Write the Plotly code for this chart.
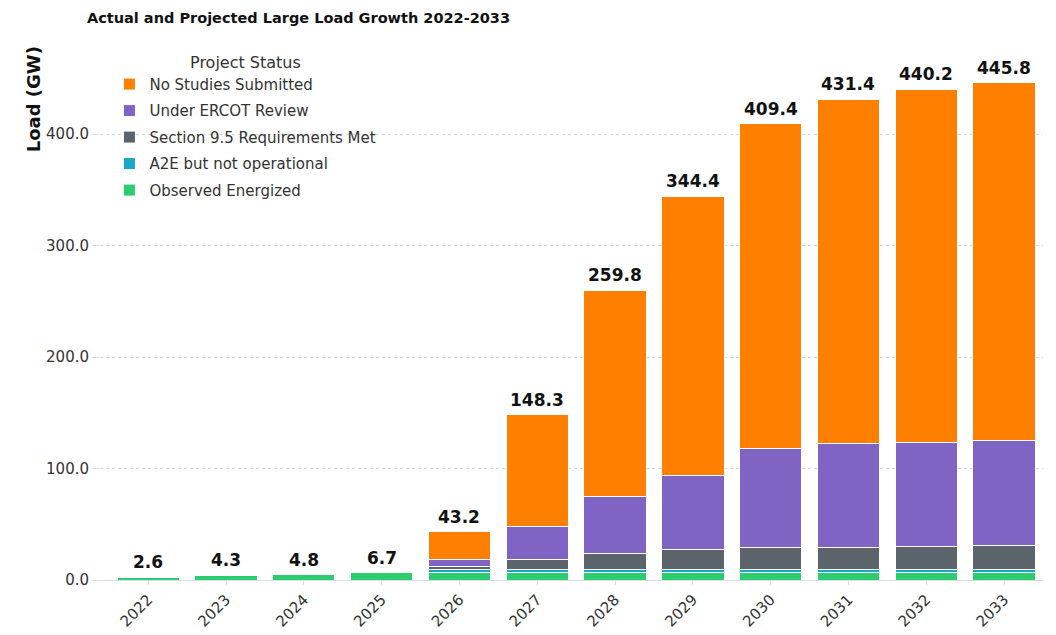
import plotly.graph_objects as go

years = ["2022", "2023", "2024", "2025", "2026", "2027", "2028", "2029", "2030", "2031", "2032", "2033"]
observed_energized = [2.6, 4.3, 4.8, 6.7, 6.7, 6.7, 6.7, 6.7, 6.7, 6.7, 6.7, 6.7]
a2e_not_operational = [0, 0, 0, 0, 3.0, 2.9, 2.9, 2.9, 2.9, 2.9, 2.9, 2.9]
section_95_met = [0, 0, 0, 0, 2.5, 8.9, 14.3, 17.9, 20.0, 20.0, 20.9, 21.5]
under_ercot_review = [0, 0, 0, 0, 6.6, 29.9, 51.4, 65.8, 88.2, 92.4, 93.0, 93.6]
totals = [2.6, 4.3, 4.8, 6.7, 43.2, 148.3, 259.8, 344.4, 409.4, 431.4, 440.2, 445.8]
no_studies_submitted = [round(t - a - b - c - d, 1) for t, a, b, c, d in
                        zip(totals, observed_energized, a2e_not_operational,
                            section_95_met, under_ercot_review)]

series = [
    ("Observed Energized", observed_energized, "#2ecc71"),
    ("A2E but not operational", a2e_not_operational, "#1aa6c6"),
    ("Section 9.5 Requirements Met", section_95_met, "#5b646b"),
    ("Under ERCOT Review", under_ercot_review, "#8064c4"),
    ("No Studies Submitted", no_studies_submitted, "#ff8000"),
]

FONT = "DejaVu Sans"
fig = go.Figure()
n = len(series)
for k, (name, vals, color) in enumerate(series):
    fig.add_trace(go.Bar(
        x=years, y=vals, name=name, legendgroup=name, legendrank=n - k,
        marker=dict(color=color, line=dict(color="white", width=1)),
        hoverinfo="skip",
    ))

for i, tot in enumerate(totals):
    fig.add_annotation(x=i, y=tot, xref="x", yref="y", text=f"<b>{tot:.1f}</b>",
                       showarrow=False, yanchor="bottom", yshift=3,
                       font=dict(family=FONT, size=17, color="#111111"))

fig.add_annotation(xref="paper", yref="paper", x=-0.071, y=0.921,
                   text="<b>Load (GW)</b>", textangle=-90, showarrow=False,
                   xanchor="center", yanchor="middle",
                   font=dict(family=FONT, size=18, color="#111111"))

fig.update_layout(
    width=1056, height=635,
    barmode="stack", bargap=0.2,
    paper_bgcolor="white", plot_bgcolor="white",
    margin=dict(l=100, r=13, t=58, b=55),
    font=dict(family=FONT, size=14, color="#333333"),
    title=dict(text="<b>Actual and Projected Large Load Growth 2022-2033</b>",
               xref="container", yref="container", x=87 / 1056, xanchor="left",
               y=1 - 18 / 635, yanchor="middle",
               font=dict(family=FONT, size=14.5, color="#111111")),
    legend=dict(
        title=dict(text="Project Status", side="top center",
                   font=dict(family=FONT, size=16, color="#333333")),
        x=0.01, y=1.021, xanchor="left", yanchor="top",
        traceorder="grouped", tracegroupgap=4,
        font=dict(family=FONT, size=15, color="#333333"),
        bgcolor="rgba(255,255,255,0)",
    ),
    xaxis=dict(
        type="category", range=[-0.62, 11.5], tickangle=-45, automargin=False,
        showgrid=False, showline=False, zeroline=False,
        ticks="outside", ticklen=4, tickcolor="#dddddd",
        tickfont=dict(family=FONT, size=15, color="#333333"),
    ),
    yaxis=dict(
        range=[0, 468.2], tickvals=[0, 100, 200, 300, 400], tickformat=".1f",
        automargin=False,
        showgrid=True, gridcolor="#d9d9d9", griddash="dot", gridwidth=1,
        zeroline=True, zerolinecolor="#dddddd", zerolinewidth=1,
        showline=False, ticks="outside", ticklen=7, tickcolor="#dddddd",
        tickfont=dict(family=FONT, size=15, color="#333333"),
    ),
)

fig.write_html("out.html")
